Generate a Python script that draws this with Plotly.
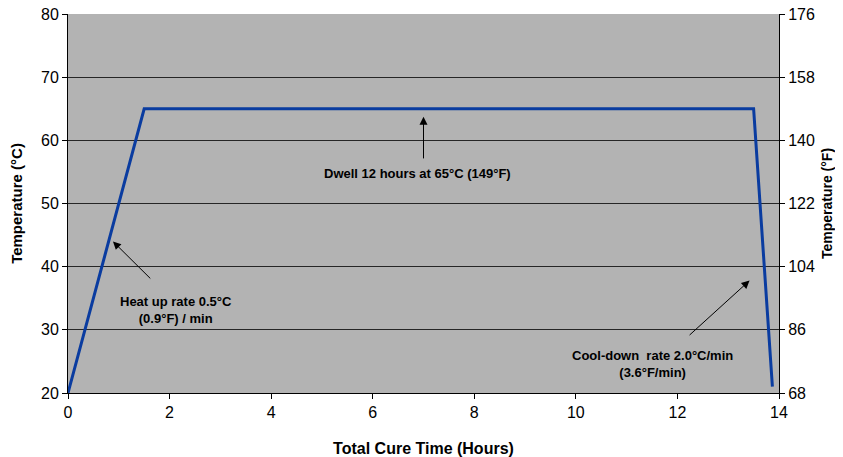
import plotly.graph_objects as go

# Data
time_h = [0, 1.5, 13.5, 13.87]
temp_c = [20, 65, 65, 21]
temp_f = [c * 1.8 + 32 for c in temp_c]

x_ticks = [0, 2, 4, 6, 8, 10, 12, 14]
yc_ticks = [20, 30, 40, 50, 60, 70, 80]
yf_ticks = [68, 86, 104, 122, 140, 158, 176]

notes = [
    # text, text_x, text_y, arrow_tail_x, arrow_tail_y, arrow_head_x, arrow_head_y
    ("<b>Heat up rate 0.5°C<br>(0.9°F) / min</b>", 2.13, 33.2, 1.65, 37.9, 0.885, 44.0),
    ("<b>Dwell 12 hours at 65°C (149°F)</b>", 6.88, 54.7, 7.0, 56.9, 7.0, 63.75),
    ("<b>Cool-down  rate 2.0°C/min<br>(3.6°F/min)</b>", 11.5, 24.6, 12.21, 28.96, 13.42, 37.8),
]

FONT = "Liberation Sans, Arial, sans-serif"

fig = go.Figure()
fig.add_trace(go.Scatter(x=time_h, y=temp_c, mode="lines",
                         line=dict(color="#0A3CA0", width=3),
                         showlegend=False, hoverinfo="skip"))
fig.add_trace(go.Scatter(x=time_h, y=temp_f, mode="lines", yaxis="y2",
                         line=dict(color="rgba(0,0,0,0)", width=0),
                         showlegend=False, hoverinfo="skip"))

annotations = []
for text, tx, ty, ax_, ay_, hx, hy in notes:
    annotations.append(dict(x=tx, y=ty, xref="x", yref="y", text=text,
                            showarrow=False, align="center",
                            font=dict(family=FONT, size=13, color="#000000")))
    annotations.append(dict(x=hx, y=hy, ax=ax_, ay=ay_, xref="x", yref="y",
                            axref="x", ayref="y", text="", showarrow=True,
                            arrowhead=2, arrowsize=1.6, arrowwidth=1,
                            arrowcolor="#000000"))

# page body adds an 8px offset, so the figure is sized to fit the 843x457 window
fig.update_layout(
    width=835, height=449,
    margin=dict(l=60, r=64, t=6, b=64),
    paper_bgcolor="white",
    plot_bgcolor="#B3B3B3",
    font=dict(family=FONT, color="#000000"),
    showlegend=False,
    annotations=annotations,
    xaxis=dict(range=[0, 14], tickvals=x_ticks, ticks="outside", ticklen=5,
               tickcolor="#000", showline=True, linecolor="#000", linewidth=1,
               showgrid=False, zeroline=False, automargin=False,
               ticklabeloverflow="allow",
               tickfont=dict(size=16, family=FONT),
               title=dict(text="<b>Total Cure Time (Hours)</b>",
                          font=dict(size=16, family=FONT), standoff=25)),
    yaxis=dict(range=[20, 80], tickvals=yc_ticks, ticks="outside", ticklen=5,
               tickcolor="#000", showline=True, linecolor="#000", linewidth=1,
               showgrid=True, gridcolor="#262626", gridwidth=1, zeroline=False,
               automargin=False, ticklabeloverflow="allow",
               tickfont=dict(size=16, family=FONT),
               title=dict(text="<b>Temperature (°C)</b>",
                          font=dict(size=15, family=FONT), standoff=17)),
    yaxis2=dict(range=[68, 176], tickvals=yf_ticks, ticks="outside", ticklen=5,
                tickcolor="#000", showline=True, linecolor="#000", linewidth=1,
                overlaying="y", side="right", showgrid=False, zeroline=False,
                automargin=False, ticklabeloverflow="allow",
                tickfont=dict(size=16, family=FONT),
                title=dict(text="<b>Temperature (°F)</b>",
                           font=dict(size=14, family=FONT), standoff=8)),
)

fig.write_html("out.html")
